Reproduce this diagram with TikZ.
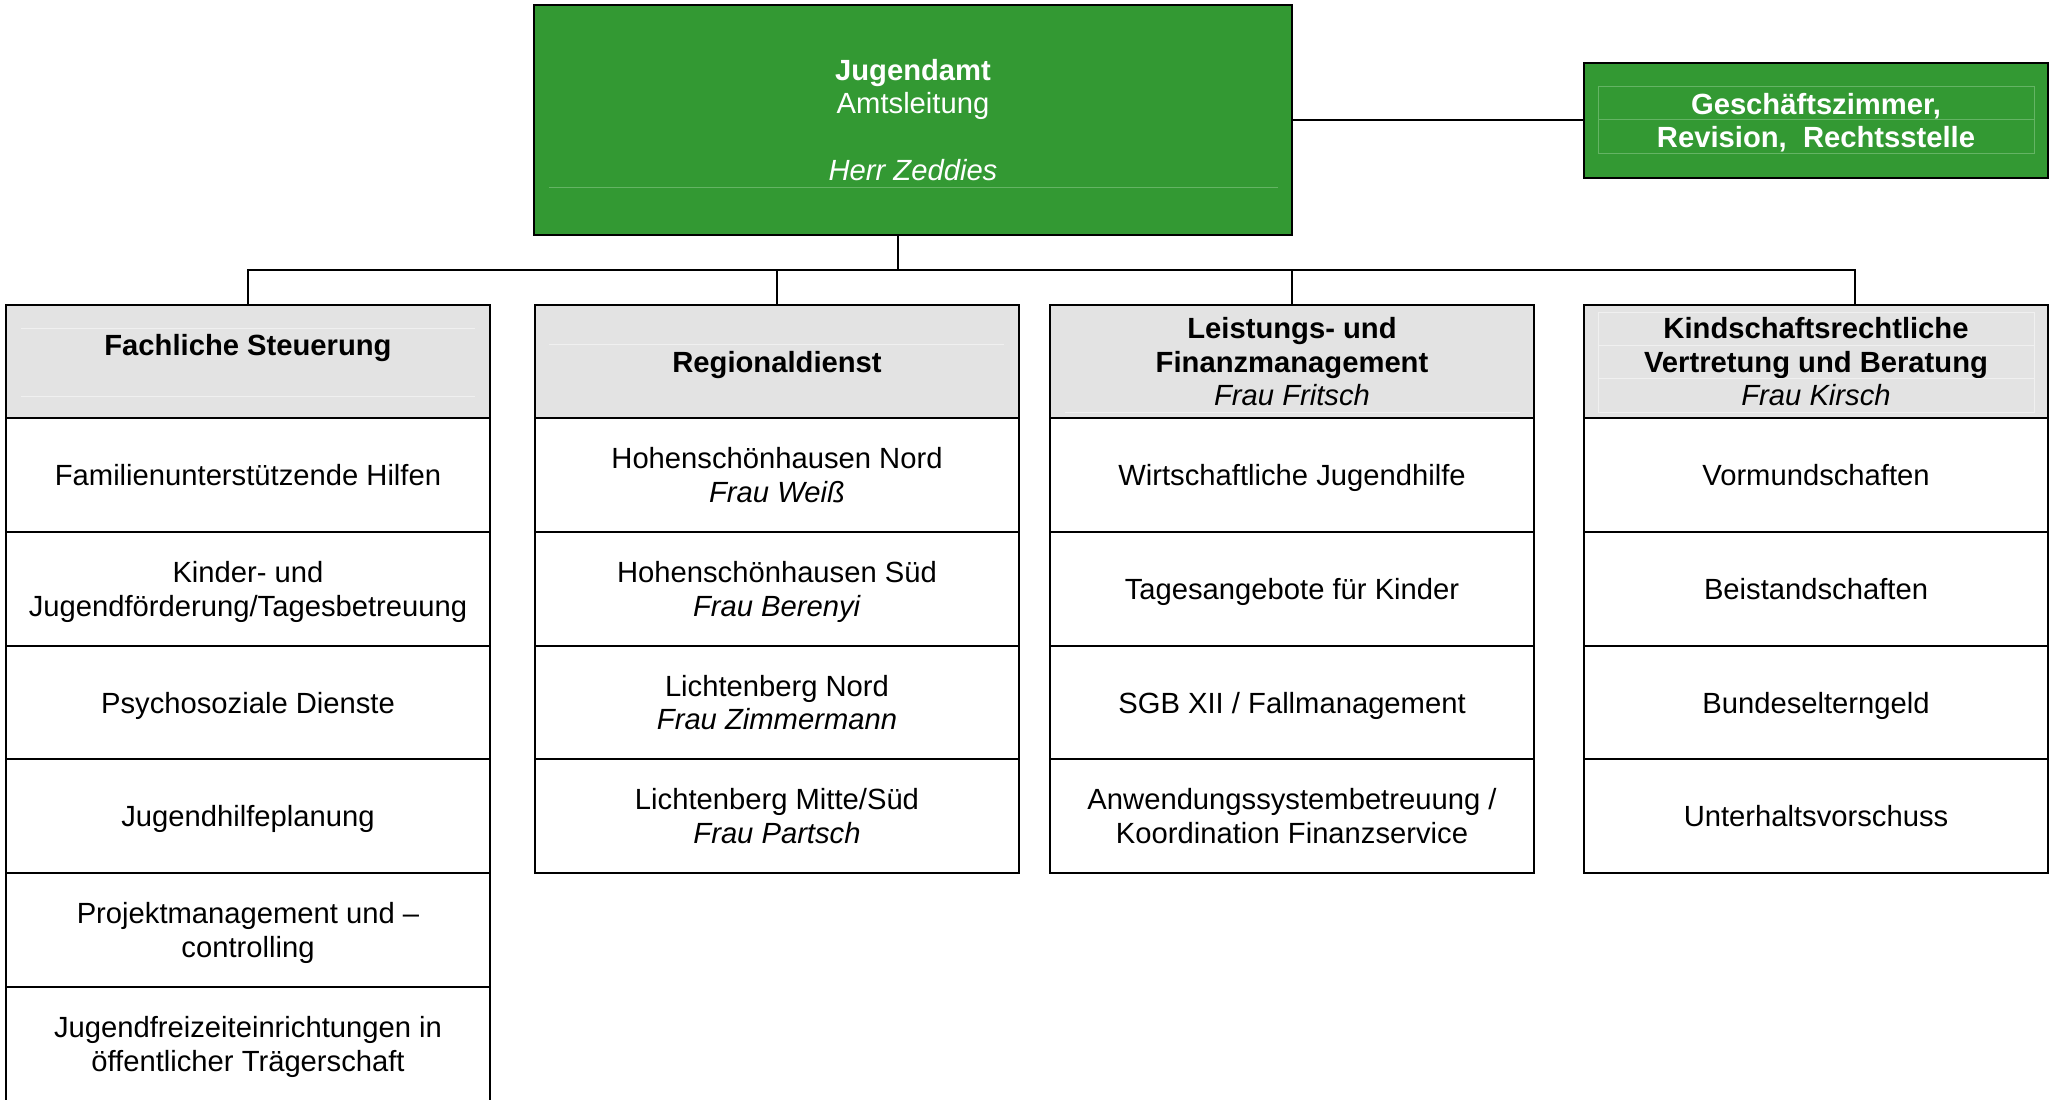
\documentclass[tikz,border=0pt]{standalone}
\usepackage{fontspec}
\setmainfont{Liberation Sans}
\usepackage{tikz}
\usetikzlibrary{positioning}

\definecolor{amtgreen}{RGB}{51,153,51}
\definecolor{amtgreenline}{RGB}{100,180,100}
\definecolor{headgray}{RGB}{227,227,227}
\definecolor{headline}{RGB}{240,240,240}

\tikzset{
  unit/.style={draw=black, line width=1pt, inner sep=0pt, outer sep=0pt, align=center,
    font=\fontsize{14.6}{16.8}\selectfont, text depth=0pt,
    minimum width=242pt, minimum height=56.85pt},
  leadbox/.style={unit, fill=amtgreen, text=white},
  headbox/.style={unit, fill=headgray},
  link/.style={line width=1pt},
}

\begin{document}
\begin{tikzpicture}[x=0.5pt, y=-0.5pt]
        \useasboundingbox (0,0) rectangle (2049,1099);

        % Leitung
        \node[leadbox, minimum width=379pt, minimum height=115pt] (top) at (913,120)
            {\textbf{Jugendamt}\\Amtsleitung\\[16.8pt]\textit{Herr Zeddies}};
        \node[leadbox, minimum width=232pt, minimum height=57.5pt] (gz) at (1816,120.5)
            {\textbf{Geschäftszimmer,}\\\textbf{Revision,~ Rechtsstelle}};

        % faint table lines inside the green boxes
        \draw[amtgreenline, line width=0.5pt] (549,187) -- (1278,187);
        \draw[amtgreenline, line width=0.5pt] (1598,86) rectangle (2034,153);
        \draw[amtgreenline, line width=0.5pt] (1598,119) -- (2034,119);

        % Fachliche Steuerung
        \node[headbox] (fs) at (248,361.5) {\textbf{Fachliche Steuerung}\\\strut};
        \node[unit] (fs1) at (248,475) {Familienunterstützende Hilfen};
        \node[unit] (fs2) at (248,589) {Kinder- und\\Jugendförderung/Tagesbetreuung};
        \node[unit] (fs3) at (248,702.5) {Psychosoziale Dienste};
        \node[unit] (fs4) at (248,816) {Jugendhilfeplanung};
        \node[unit] (fs5) at (248,930) {Projektmanagement und –\\controlling};
        \node[unit] (fs6) at (248,1044) {Jugendfreizeiteinrichtungen in\\öffentlicher Trägerschaft};

        % Regionaldienst
        \node[headbox] (rd) at (777,361.5) {\textbf{Regionaldienst}};
        \node[unit] (rd1) at (777,475) {Hohenschönhausen Nord\\\textit{Frau Weiß}};
        \node[unit] (rd2) at (777,589) {Hohenschönhausen Süd\\\textit{Frau Berenyi}};
        \node[unit] (rd3) at (777,702.5) {Lichtenberg Nord\\\textit{Frau Zimmermann}};
        \node[unit] (rd4) at (777,816) {Lichtenberg Mitte/Süd\\\textit{Frau Partsch}};

        % Leistungs- und Finanzmanagement
        \node[headbox] (lf) at (1292,361.5)
            {\textbf{Leistungs- und}\\\textbf{Finanzmanagement}\\\textit{Frau Fritsch}};
        \node[unit] (lf1) at (1292,475) {Wirtschaftliche Jugendhilfe};
        \node[unit] (lf2) at (1292,589) {Tagesangebote für Kinder};
        \node[unit] (lf3) at (1292,702.5) {SGB XII / Fallmanagement};
        \node[unit] (lf4) at (1292,816) {Anwendungssystembetreuung /\\Koordination Finanzservice};

        % Kindschaftsrechtliche Vertretung
        \node[headbox, minimum width=232pt] (kr) at (1816,361.5)
            {\textbf{Kindschaftsrechtliche}\\\textbf{Vertretung und Beratung}\\\textit{Frau Kirsch}};
        \node[unit, minimum width=232pt] (kr1) at (1816,475) {Vormundschaften};
        \node[unit, minimum width=232pt] (kr2) at (1816,589) {Beistandschaften};
        \node[unit, minimum width=232pt] (kr3) at (1816,702.5) {Bundeselterngeld};
        \node[unit, minimum width=232pt] (kr4) at (1816,816) {Unterhaltsvorschuss};

        % faint table lines inside the grey headers
        \draw[headline, line width=0.5pt] (21,328) -- (475,328) (21,396) -- (475,396);
        \draw[headline, line width=0.5pt] (549,344) -- (1004,344);
        \draw[headline, line width=0.5pt] (1065,412) -- (1520,412);
        \draw[headline, line width=0.5pt] (1598,312) rectangle (2034,412)
            (1598,345) -- (2034,345) (1598,378) -- (2034,378);

        % Connectors
        \coordinate (bus) at (898,270);
        \coordinate (drop) at (1855,270);
        \draw[link] (top.east) -- (top.east -| gz.west);
        \draw[link] (top.south -| bus) -- (bus);
        \draw[link] (fs.north) -- (fs.north |- bus) -- (drop) -- (drop |- kr.north);
        \draw[link] (rd.north) -- (rd.north |- bus);
        \draw[link] (lf.north) -- (lf.north |- bus);
\end{tikzpicture}
\end{document}
